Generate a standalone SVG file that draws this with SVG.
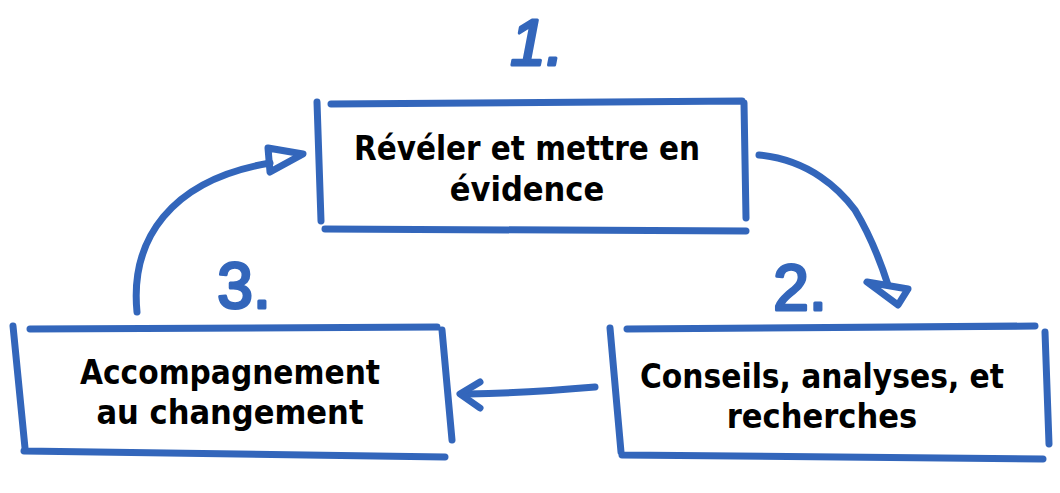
<svg xmlns="http://www.w3.org/2000/svg" width="1060" height="493" viewBox="0 0 1060 493">
<style>
.s{fill:none;stroke:#3366bb;stroke-width:7;stroke-linecap:round;stroke-linejoin:round}
.t{font-family:"DejaVu Sans Condensed","DejaVu Sans",sans-serif;font-weight:bold;font-size:34px;fill:#000;text-anchor:middle}
.n{font-family:"Liberation Sans",sans-serif;font-size:64px;fill:#3366bb;stroke:#3366bb;stroke-width:3;stroke-linejoin:round;text-anchor:middle}
</style>
<rect width="1060" height="493" fill="#fff"/>
<g id="node1">
<path class="s" d="M331 104 L742 101 M317 102 L321 221 M325 229 L746 231 M744 103 L746 218"/>
<text class="t" x="527" y="160" textLength="346" lengthAdjust="spacingAndGlyphs">Révéler et mettre en</text>
<text class="t" x="527" y="201">évidence</text>
<text class="n" x="537" y="65" font-style="italic">1.</text>
</g>
<g id="node2">
<path class="s" d="M627 329 L1035 326 M610 328 L621 452 M622 455 L1043 459 M1045 332 L1049 444"/>
<text class="t" x="822" y="388" textLength="364" lengthAdjust="spacingAndGlyphs">Conseils, analyses, et</text>
<text class="t" x="822" y="428">recherches</text>
<text class="n" x="800" y="310">2.</text>
</g>
<g id="node3">
<path class="s" d="M30 329 L437 327 M13 326 L25 448 M24 451 L445 457 M442 330 L452 440"/>
<text class="t" x="230" y="384" textLength="300" lengthAdjust="spacingAndGlyphs">Accompagnement</text>
<text class="t" x="230" y="424">au changement</text>
<text class="n" x="244" y="308">3.</text>
</g>
<g id="connectors">
<path class="s" d="M759 155 C810 160 840 190 855 210 C870 235 880 260 888 285"/>
<path class="s" d="M867 282 L908 289 L898 305 Z"/>
<path class="s" d="M595 387 C560 390 520 393 468 394"/>
<path class="s" d="M480 382 L460 394 L480 408"/>
<path class="s" d="M137 312 C130 240 170 180 270 163"/>
<path class="s" d="M268 148 L303 154 L270 172 Z"/>
</g>
</svg>
